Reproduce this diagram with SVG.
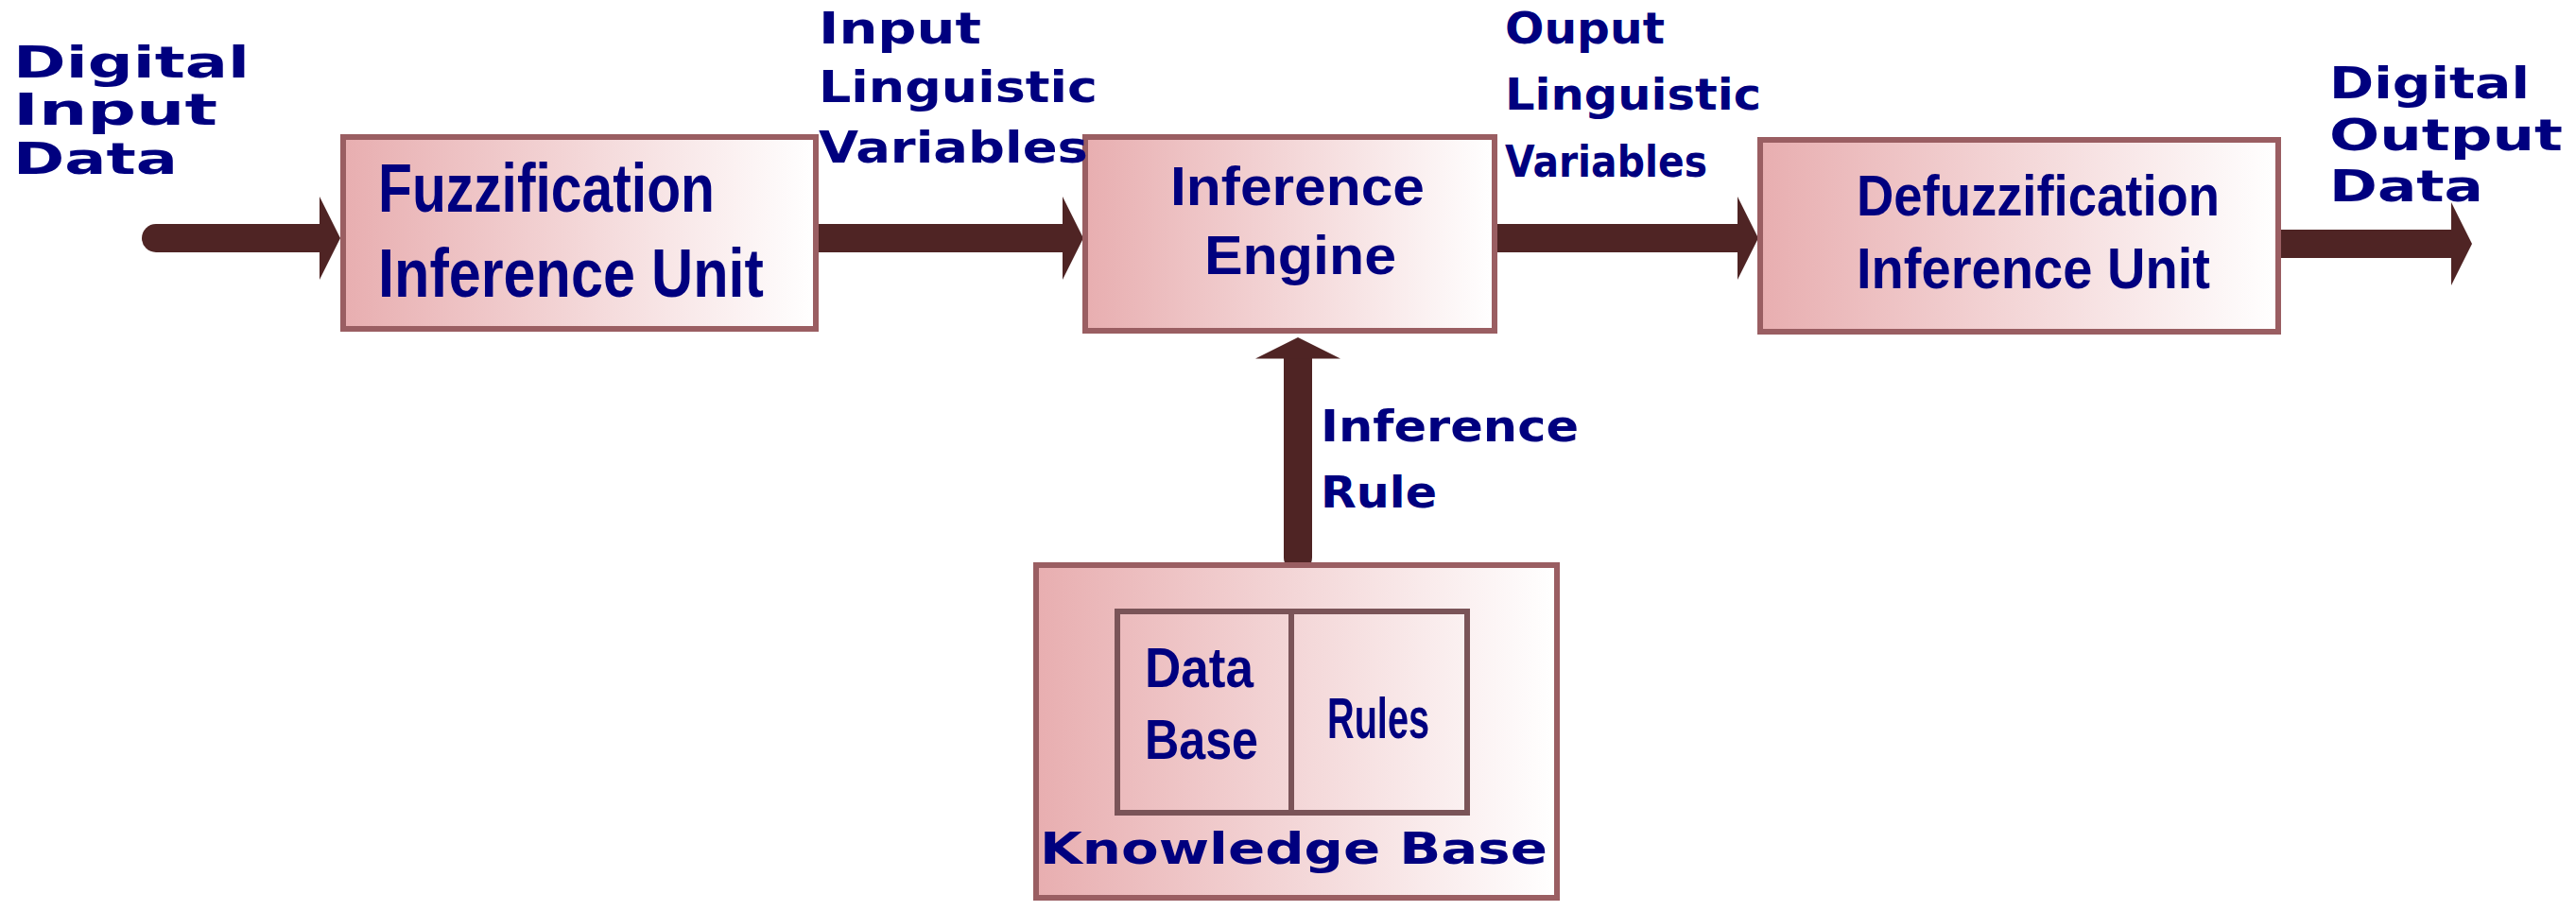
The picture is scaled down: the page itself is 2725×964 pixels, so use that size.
<svg xmlns="http://www.w3.org/2000/svg" width="2725" height="964" viewBox="0 0 2725 964">
<defs>
<linearGradient id="g" x1="0" y1="0" x2="1" y2="0"><stop offset="0" stop-color="#e8aeb0"/><stop offset="1" stop-color="#ffffff"/></linearGradient>
<marker id="ah" markerWidth="0.9" markerHeight="3" refX="0.05" refY="1.5" orient="auto" markerUnits="strokeWidth"><path d="M0,0 L0.75,1.5 L0,3 Z" fill="#4f2424"/></marker>
<style>
.box{fill:url(#g);stroke:#9a5e62;stroke-width:6}
.in{fill:none;stroke:#7a5458;stroke-width:6}
.lbl{font-family:"DejaVu Sans",sans-serif;font-weight:bold;font-size:46px;fill:#00007f}
.bt{font-family:"Liberation Sans",sans-serif;font-weight:bold;fill:#00007f}
.ar{stroke:#4f2424;stroke-width:30;fill:none;stroke-linecap:round}
</style>
</defs>
<g id="connectors">
<path class="ar" d="M165,252 H339" marker-end="url(#ah)"/>
<path class="ar" d="M866,252 H1125" marker-end="url(#ah)"/>
<path class="ar" d="M1584,252 H1839" marker-end="url(#ah)"/>
<path class="ar" d="M2413,258 H2594" marker-end="url(#ah)"/>
<path class="ar" d="M1373,590 V378" marker-end="url(#ah)"/>
</g>
<g id="fuzz"><rect class="box" x="363" y="145" width="500" height="203"/>
<text class="bt" font-size="72" x="400" y="224" textLength="356" lengthAdjust="spacingAndGlyphs">Fuzzification</text><text class="bt" font-size="72" x="400" y="314" textLength="408" lengthAdjust="spacingAndGlyphs">Inference Unit</text></g>
<g id="engine"><rect class="box" x="1148" y="145" width="433" height="205"/>
<text class="bt" font-size="58" x="1238" y="217" textLength="269" lengthAdjust="spacingAndGlyphs">Inference</text><text class="bt" font-size="58" x="1274" y="290" textLength="203" lengthAdjust="spacingAndGlyphs">Engine</text></g>
<g id="defuzz"><rect class="box" x="1862" y="148" width="548" height="203"/>
<text class="bt" font-size="62" x="1964" y="228" textLength="384" lengthAdjust="spacingAndGlyphs">Defuzzification</text><text class="bt" font-size="62" x="1964" y="305" textLength="374" lengthAdjust="spacingAndGlyphs">Inference Unit</text></g>
<g id="kb"><rect class="box" x="1096" y="598" width="551" height="352"/>
<rect class="in" x="1182" y="647" width="370" height="213"/><line class="in" x1="1366" y1="647" x2="1366" y2="860"/>
<text class="bt" font-size="60" x="1211" y="727" textLength="115" lengthAdjust="spacingAndGlyphs">Data</text><text class="bt" font-size="60" x="1211" y="803" textLength="120" lengthAdjust="spacingAndGlyphs">Base</text>
<text class="bt" font-size="62" x="1404" y="781" textLength="108" lengthAdjust="spacingAndGlyphs">Rules</text>
<text class="lbl" x="1100" y="914" font-size="54" textLength="537" lengthAdjust="spacingAndGlyphs">Knowledge Base</text></g>
<g id="labels">
<text class="lbl" x="14" y="82" textLength="250" lengthAdjust="spacingAndGlyphs">Digital</text><text class="lbl" x="14" y="132" textLength="216" lengthAdjust="spacingAndGlyphs">Input</text><text class="lbl" x="14" y="184" textLength="174" lengthAdjust="spacingAndGlyphs">Data</text>
<text class="lbl" x="866" y="46" textLength="172" lengthAdjust="spacingAndGlyphs">Input</text><text class="lbl" x="866" y="108" textLength="295" lengthAdjust="spacingAndGlyphs">Linguistic</text><text class="lbl" x="866" y="172" textLength="285" lengthAdjust="spacingAndGlyphs">Variables</text>
<text class="lbl" x="1592" y="46" textLength="169" lengthAdjust="spacingAndGlyphs">Ouput</text><text class="lbl" x="1592" y="116" textLength="271" lengthAdjust="spacingAndGlyphs">Linguistic</text><text class="lbl" x="1592" y="187" textLength="214" lengthAdjust="spacingAndGlyphs">Variables</text>
<text class="lbl" x="2464" y="104" textLength="212" lengthAdjust="spacingAndGlyphs">Digital</text><text class="lbl" x="2464" y="159" textLength="247" lengthAdjust="spacingAndGlyphs">Output</text><text class="lbl" x="2464" y="213" textLength="163" lengthAdjust="spacingAndGlyphs">Data</text>
<text class="lbl" x="1397" y="467" font-size="52" textLength="273" lengthAdjust="spacingAndGlyphs">Inference</text><text class="lbl" x="1397" y="537" font-size="52" textLength="123" lengthAdjust="spacingAndGlyphs">Rule</text>
</g>
</svg>
